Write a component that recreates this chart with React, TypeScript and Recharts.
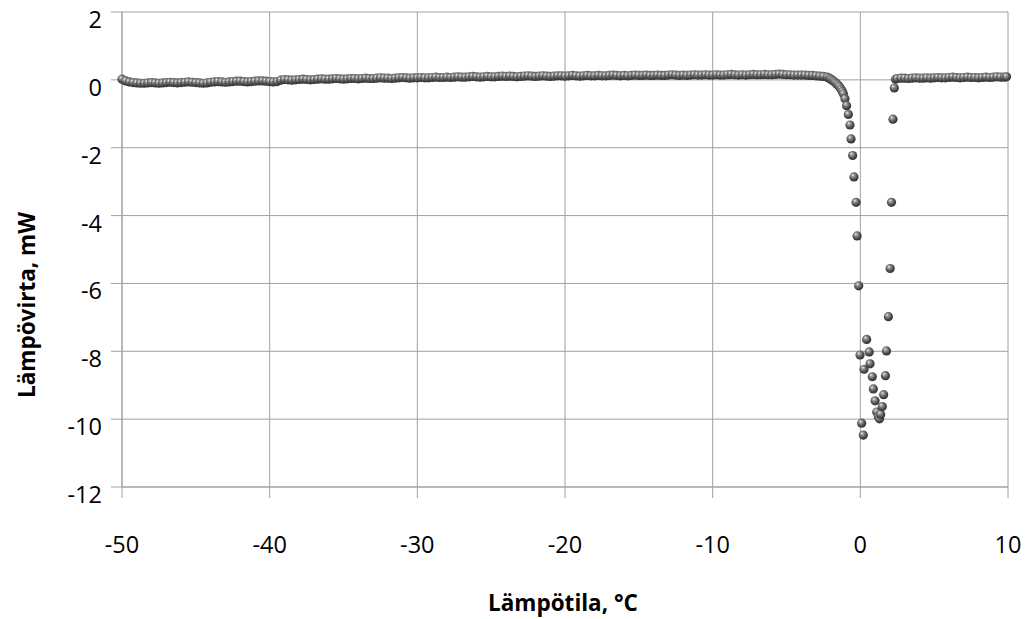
import { ScatterChart, Scatter, XAxis, YAxis, CartesianGrid } from "recharts";

// temperature (°C), heat flow (mW)
const baseline: [number, number][] = [
  [-50, 0.02], [-49.75, -0.03], [-49.5, -0.06], [-49.25, -0.08], [-49, -0.09], [-48.75, -0.1], [-48.5, -0.1], [-48.25, -0.09],
  [-48, -0.08], [-47.75, -0.09], [-47.5, -0.1], [-47.25, -0.09], [-47, -0.08], [-46.75, -0.07], [-46.5, -0.08], [-46.25, -0.09],
  [-46, -0.08], [-45.75, -0.07], [-45.5, -0.06], [-45.25, -0.07], [-45, -0.08], [-44.75, -0.09], [-44.5, -0.1], [-44.25, -0.09],
  [-44, -0.07], [-43.75, -0.06], [-43.5, -0.05], [-43.25, -0.06], [-43, -0.07], [-42.75, -0.06], [-42.5, -0.05], [-42.25, -0.04],
  [-42, -0.04], [-41.75, -0.05], [-41.5, -0.06], [-41.25, -0.05], [-41, -0.04], [-40.75, -0.03], [-40.5, -0.03], [-40.25, -0.04],
  [-40, -0.05], [-39.75, -0.06], [-39.5, -0.05], [-39.25, -0.01], [-39, 0.01], [-38.75, 0], [-38.5, -0.01], [-38.25, 0],
  [-38, 0.01], [-37.75, 0.02], [-37.5, 0.01], [-37.25, 0], [-37, 0.01], [-36.75, 0.02], [-36.5, 0.03], [-36.25, 0.02],
  [-36, 0.02], [-35.75, 0.03], [-35.5, 0.04], [-35.25, 0.03], [-35, 0.02], [-34.75, 0.03], [-34.5, 0.04], [-34.25, 0.04],
  [-34, 0.03], [-33.75, 0.04], [-33.5, 0.05], [-33.25, 0.04], [-33, 0.04], [-32.75, 0.05], [-32.5, 0.06], [-32.25, 0.05],
  [-32, 0.05], [-31.75, 0.04], [-31.5, 0.05], [-31.25, 0.06], [-31, 0.07], [-30.75, 0.06], [-30.5, 0.05], [-30.25, 0.06],
  [-30, 0.06], [-29.75, 0.07], [-29.5, 0.06], [-29.25, 0.06], [-29, 0.07], [-28.75, 0.08], [-28.5, 0.07], [-28.25, 0.07],
  [-28, 0.08], [-27.75, 0.07], [-27.5, 0.08], [-27.25, 0.09], [-27, 0.08], [-26.75, 0.08], [-26.5, 0.09], [-26.25, 0.1],
  [-26, 0.09], [-25.75, 0.08], [-25.5, 0.09], [-25.25, 0.1], [-25, 0.09], [-24.75, 0.09], [-24.5, 0.1], [-24.25, 0.11],
  [-24, 0.1], [-23.75, 0.11], [-23.5, 0.1], [-23.25, 0.09], [-23, 0.1], [-22.75, 0.11], [-22.5, 0.12], [-22.25, 0.11],
  [-22, 0.1], [-21.75, 0.11], [-21.5, 0.12], [-21.25, 0.11], [-21, 0.1], [-20.75, 0.11], [-20.5, 0.12], [-20.25, 0.12],
  [-20, 0.11], [-19.75, 0.12], [-19.5, 0.13], [-19.25, 0.12], [-19, 0.11], [-18.75, 0.12], [-18.5, 0.13], [-18.25, 0.12],
  [-18, 0.12], [-17.75, 0.13], [-17.5, 0.12], [-17.25, 0.12], [-17, 0.13], [-16.75, 0.14], [-16.5, 0.13], [-16.25, 0.12],
  [-16, 0.13], [-15.75, 0.12], [-15.5, 0.13], [-15.25, 0.14], [-15, 0.13], [-14.75, 0.13], [-14.5, 0.14], [-14.25, 0.13],
  [-14, 0.13], [-13.75, 0.14], [-13.5, 0.13], [-13.25, 0.13], [-13, 0.14], [-12.75, 0.15], [-12.5, 0.14], [-12.25, 0.13],
  [-12, 0.14], [-11.75, 0.13], [-11.5, 0.14], [-11.25, 0.15], [-11, 0.14], [-10.75, 0.14], [-10.5, 0.15], [-10.25, 0.14],
  [-10, 0.14], [-9.75, 0.15], [-9.5, 0.14], [-9.25, 0.14], [-9, 0.15], [-8.75, 0.16], [-8.5, 0.15], [-8.25, 0.14],
  [-8, 0.15], [-7.75, 0.14], [-7.5, 0.15], [-7.25, 0.16], [-7, 0.15], [-6.75, 0.15], [-6.5, 0.16], [-6.25, 0.15],
  [-6, 0.15], [-5.75, 0.16], [-5.5, 0.17], [-5.25, 0.16], [-5, 0.15], [-4.75, 0.15], [-4.5, 0.14], [-4.25, 0.14],
  [-4, 0.14], [-3.75, 0.14], [-3.5, 0.13], [-3.25, 0.13], [-3, 0.12], [-2.75, 0.11], [-2.5, 0.1], [-2.25, 0.08],
];

const freezeCurve: [number, number][] = [
  [-2.1, 0.05], [-2, 0.02], [-1.9, -0.01], [-1.8, -0.04], [-1.7, -0.08], [-1.6, -0.12], [-1.5, -0.16], [-1.4, -0.21],
  [-1.3, -0.28], [-1.22, -0.34], [-1.15, -0.41], [-1.04, -0.56], [-0.93, -0.76], [-0.81, -1.02], [-0.7, -1.33],
  [-0.63, -1.74], [-0.52, -2.23], [-0.43, -2.86], [-0.29, -3.61], [-0.22, -4.6], [-0.11, -6.07], [-0.02, -8.11],
  [0.09, -10.12], [0.2, -10.47], [0.25, -8.53],
];

const meltPeak: [number, number][] = [
  [0.43, -7.65], [0.6, -8.02], [0.66, -8.37], [0.81, -8.75], [0.88, -9.11], [1.0, -9.46], [1.11, -9.79], [1.22, -9.93],
  [1.3, -9.99], [1.38, -9.86], [1.49, -9.63], [1.58, -9.28], [1.7, -8.72], [1.77, -7.99], [1.9, -6.98], [2.02, -5.56],
  [2.11, -3.61], [2.21, -1.16], [2.3, -0.24], [2.38, 0.02],
];

const tail: [number, number][] = [
  [2.5, 0.04], [2.75, 0.05], [3, 0.05], [3.25, 0.04], [3.5, 0.05], [3.75, 0.06], [4, 0.05], [4.25, 0.05],
  [4.5, 0.06], [4.75, 0.05], [5, 0.06], [5.25, 0.07], [5.5, 0.06], [5.75, 0.06], [6, 0.07], [6.25, 0.08],
  [6.5, 0.07], [6.75, 0.06], [7, 0.07], [7.25, 0.08], [7.5, 0.07], [7.75, 0.07], [8, 0.06], [8.25, 0.07],
  [8.5, 0.08], [8.75, 0.07], [9, 0.08], [9.25, 0.09], [9.5, 0.08], [9.75, 0.08], [9.9, 0.09],
];

const xTicks = [-50, -40, -30, -20, -10, 0, 10];
const yTicks = [-12, -10, -8, -6, -4, -2, 0, 2];

const points = [...baseline, ...freezeCurve, ...meltPeak, ...tail].map(([t, q]) => ({ t, q }));

const grey = "#a0a0a0";
const font = "'Open Sans', sans-serif";

const Ball = (p: any) => <circle cx={p.cx} cy={p.cy} r={4.6} fill="url(#ball)" />;

const XTick = (p: any) => (
  <text x={p.x} y={p.y + 46} textAnchor="middle" dominantBaseline="central" fontSize={23.5} fontFamily={font} fill="#000">
    {p.payload.value}
  </text>
);

const YTick = (p: any) => (
  <text x={p.x} y={p.y + 7} textAnchor="end" dominantBaseline="central" fontSize={23.5} fontFamily={font} fill="#000">
    {p.payload.value}
  </text>
);

export default function App() {
  return (
    <div style={{ position: "absolute", left: 0, top: 0, width: 1036, height: 619, background: "#fff" }}>
      <svg width={0} height={0} style={{ position: "absolute" }}>
        <defs>
          <radialGradient id="ball" cx="0.45" cy="0.4" r="0.6" fx="0.35" fy="0.3">
            <stop offset="0%" stopColor="#f2f2f2" />
            <stop offset="25%" stopColor="#9c9c9c" />
            <stop offset="70%" stopColor="#4c4c4c" />
            <stop offset="100%" stopColor="#2e2e2e" />
          </radialGradient>
        </defs>
      </svg>
      <ScatterChart width={1036} height={619} margin={{ top: 12, right: 28, left: 0, bottom: 0 }}>
        <CartesianGrid stroke={grey} strokeWidth={1} />
        <XAxis
          type="number"
          dataKey="t"
          domain={[-50, 10]}
          ticks={xTicks}
          height={132}
          tickSize={11}
          tickMargin={0}
          tick={<XTick />}
          stroke={grey}
          interval={0}
        />
        <YAxis
          type="number"
          dataKey="q"
          domain={[-12, 2]}
          ticks={yTicks}
          width={122}
          tickSize={11}
          tickMargin={9}
          tick={<YTick />}
          stroke={grey}
          interval={0}
        />
        <Scatter data={points} shape={Ball} isAnimationActive={false} />
      </ScatterChart>
      <svg width={1036} height={619} style={{ position: "absolute", left: 0, top: 0, pointerEvents: "none" }}>
        <text x={563} y={611} textAnchor="middle" fontSize={22.5} fontWeight="bold" fontFamily={font} fill="#000">
          Lämpötila, °C
        </text>
        <text
          transform="translate(26,305) rotate(-90)"
          textAnchor="middle"
          dominantBaseline="central"
          fontSize={22.5}
          fontWeight="bold"
          fontFamily={font}
          fill="#000"
        >
          Lämpövirta, mW
        </text>
      </svg>
    </div>
  );
}
